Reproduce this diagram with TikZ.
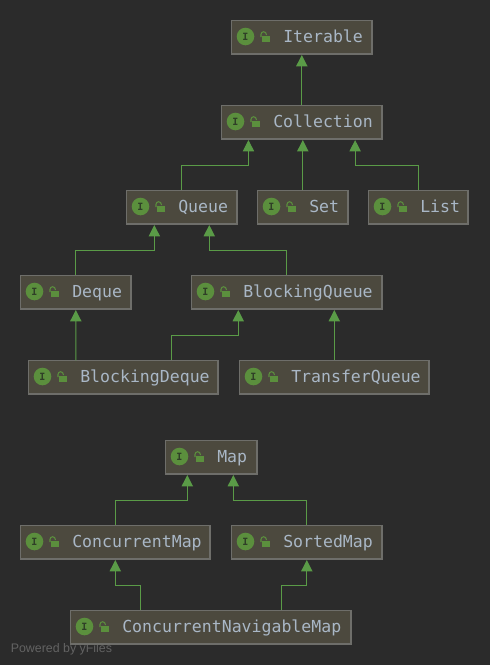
\documentclass[tikz,border=0pt]{standalone}
\usepackage{fontspec}
\setmainfont{Liberation Sans}
\setmonofont{DejaVu Sans Mono}
\usetikzlibrary{arrows.meta}
\definecolor{canvas}{HTML}{2B2B2B}
\definecolor{boxfill}{HTML}{4C493E}
\definecolor{boxline}{HTML}{6E6E6A}
\definecolor{edgegreen}{HTML}{5A9B47}
\definecolor{badgegreen}{HTML}{5B8F3D}
\definecolor{badgeletter}{HTML}{2F3F27}
\definecolor{labeltext}{HTML}{A9B7C6}
\definecolor{creditgray}{HTML}{636363}
\tikzset{
    ifacebox/.style={draw=boxline, line width=0.9pt, fill=boxfill, minimum height=25.2pt, outer sep=0pt, anchor=center, inner sep=0pt},
    ifacelabel/.style={text=labeltext, font=\ttfamily\fontsize{12.4}{12.4}\selectfont, anchor=base west, inner sep=0pt},
    badge/.style={circle, fill=badgegreen, text=badgeletter, minimum size=13.2pt, inner sep=0pt, font=\ttfamily\bfseries\fontsize{7.5}{7.5}\selectfont},
    extends/.style={draw=edgegreen, line width=0.7pt, -{Triangle[width=8.4pt, length=8.4pt]}, shorten >=0.8pt},
}
% name, left x, top y, width, text
\newcommand{\iface}[5]{
    \node[ifacebox, minimum width=#4*0.75pt-0.4pt] (#1) at (#2+#4/2+0.3, #3+17.2) {};
    \node[badge] (#1badge) at (#2+14.5, #3+16.5) {I};
    \fill[badgegreen] (#2+31, #3+16) rectangle (#2+39, #3+22);
    \draw[badgegreen, line width=0.8pt] (#2+30, #3+17) -- (#2+30, #3+14.4) arc[start angle=180, end angle=0, radius=2pt] -- (#2+35.3, #3+15);
    \node[ifacelabel] (#1label) at (#2+52, #3+22) {#5};
}
\begin{document}
\begin{tikzpicture}[x=0.75pt, y=-0.75pt]
\fill[canvas] (0,0) rectangle (490,665);
\useasboundingbox (0,0) rectangle (490,665);

\node[text=creditgray, font=\fontsize{9.3}{9.3}\selectfont, anchor=base west, inner sep=0pt] (credit) at (10.5,652) {Powered by yFiles};

\iface{iterable}{231}{20}{141}{Iterable}
\iface{collection}{221}{105}{161}{Collection}
\iface{queue}{126}{190}{111}{Queue}
\iface{set}{257}{190}{91}{Set}
\iface{list}{368}{190}{100}{List}
\iface{deque}{20}{275}{111}{Deque}
\iface{blockingqueue}{191}{275}{191}{BlockingQueue}
\iface{blockingdeque}{28}{360}{190}{BlockingDeque}
\iface{transferqueue}{239}{360}{190}{TransferQueue}
\iface{map}{165}{440}{92}{Map}
\iface{concurrentmap}{20}{525}{190}{ConcurrentMap}
\iface{sortedmap}{231}{525}{151}{SortedMap}
\iface{navigablemap}{70}{610}{281}{ConcurrentNavigableMap}

\draw[extends] (collection.north) -- (iterable.south);
\draw[extends] (queue.north) -- ++(0,-25) -| ([xshift=-40pt]collection.south);
\draw[extends] (set.north) -- (set.north |- collection.south);
\draw[extends] (list.north) -- ++(0,-25) -| ([xshift=40pt]collection.south);
\draw[extends] (deque.north) -- ++(0,-25) -| ([xshift=-20.6pt]queue.south);
\draw[extends] (blockingqueue.north) -- ++(0,-25) -| ([xshift=20.6pt]queue.south);
\draw[extends] ([xshift=-35.6pt]blockingdeque.north) -- (deque.south);
\draw[extends] ([xshift=36pt]blockingdeque.north) -- ++(0,-25) -| ([xshift=-36.4pt]blockingqueue.south);
\draw[extends] (transferqueue.north) -- (transferqueue.north |- blockingqueue.south);
\draw[extends] (concurrentmap.north) -- ++(0,-25) -| ([xshift=-18pt]map.south);
\draw[extends] (sortedmap.north) -- ++(0,-25) -| ([xshift=16.5pt]map.south);
\draw[extends] ([xshift=-52.9pt]navigablemap.north) -- ++(0,-25) -| (concurrentmap.south);
\draw[extends] ([xshift=52.9pt]navigablemap.north) -- ++(0,-25) -| (sortedmap.south);
\end{tikzpicture}
\end{document}
